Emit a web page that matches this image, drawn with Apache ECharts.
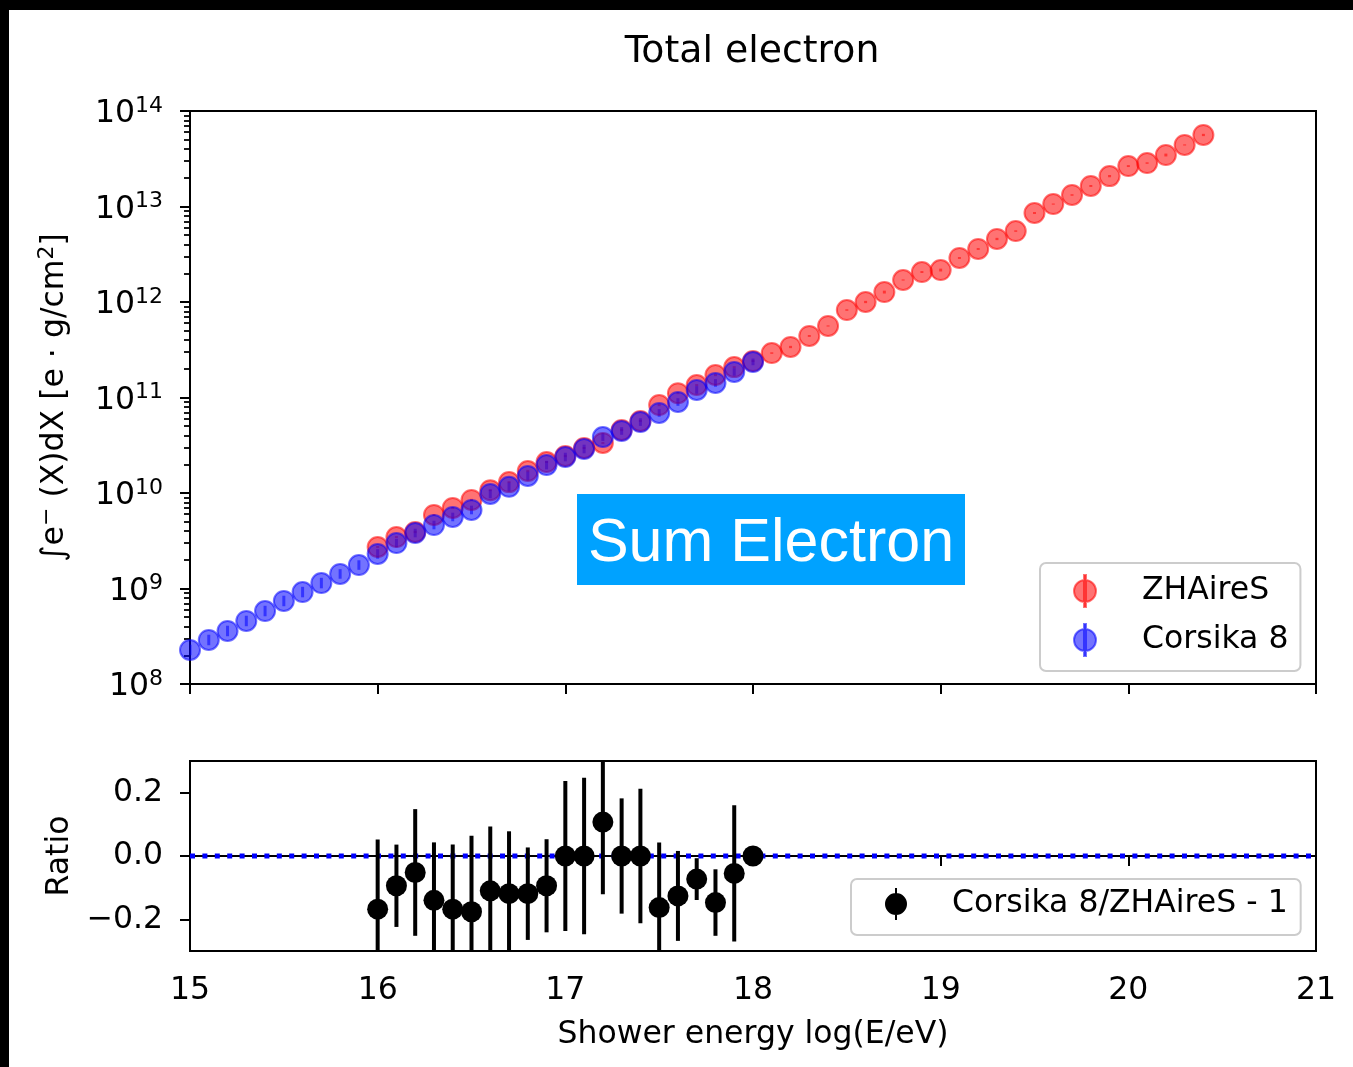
<!DOCTYPE html>
<html>
<head>
<meta charset="utf-8">
<title>Total electron</title>
<script src="https://cdn.jsdelivr.net/npm/echarts@6/dist/echarts.min.js"></script>
<style>
  html, body { margin: 0; padding: 0; background: #fff; }
  #chart { width: 1353px; height: 1067px; }
</style>
</head>
<body>
<div id="chart"></div>
<script>
// ---- data -------------------------------------------------------------
// shower energy, log10(E/eV)
const zhEnergy = [16.0, 16.1, 16.2, 16.3, 16.4, 16.5, 16.6, 16.7, 16.8, 16.9,
                  17.0, 17.1, 17.2, 17.3, 17.4, 17.5, 17.6, 17.7, 17.8, 17.9,
                  18.0, 18.1, 18.2, 18.3, 18.4, 18.5, 18.6, 18.7, 18.8, 18.9,
                  19.0, 19.1, 19.2, 19.3, 19.4, 19.5, 19.6, 19.7, 19.8, 19.9,
                  20.0, 20.1, 20.2, 20.3, 20.4];
// integrated electron profile, e·g/cm²  (ZHAireS)
const zhElectron = [2.72e9, 3.46e9, 3.91e9, 5.89e9, 6.97e9, 8.45e9, 1.07e10, 1.30e10, 1.70e10, 2.11e10,
                    2.44e10, 2.96e10, 3.34e10, 4.57e10, 5.68e10, 8.34e10, 1.11e11, 1.35e11, 1.72e11, 2.08e11,
                    2.41e11, 2.92e11, 3.38e11, 4.41e11, 5.61e11, 8.24e11, 1.00e12, 1.27e12, 1.70e12, 2.06e12,
                    2.16e12, 2.89e12, 3.59e12, 4.57e12, 5.53e12, 8.55e12, 1.06e13, 1.32e13, 1.64e13, 2.08e13,
                    2.65e13, 2.85e13, 3.46e13, 4.41e13, 5.61e13];
// half-width of the error bar in decades
const zhErr = [0.010, 0.010, 0.012, 0.010, 0.010, 0.012, 0.010, 0.010, 0.012, 0.010,
               0.012, 0.010, 0.010, 0.012, 0.010, 0.012, 0.010, 0.010, 0.012, 0.010,
               0.010, 0.008, 0.012, 0.010, 0.006, 0.008, 0.012, 0.015, 0.006, 0.010,
               0.015, 0.010, 0.010, 0.012, 0.008, 0.010, 0.006, 0.008, 0.010, 0.012,
               0.010, 0.008, 0.015, 0.006, 0.012];

const c8Energy = [15.0, 15.1, 15.2, 15.3, 15.4, 15.5, 15.6, 15.7, 15.8, 15.9,
                  16.0, 16.1, 16.2, 16.3, 16.4, 16.5, 16.6, 16.7, 16.8, 16.9,
                  17.0, 17.1, 17.2, 17.3, 17.4, 17.5, 17.6, 17.7, 17.8, 17.9,
                  18.0];
// integrated electron profile, e·g/cm²  (Corsika 8)
const c8Electron = [2.27e8, 2.89e8, 3.59e8, 4.57e8, 5.81e8, 7.40e8, 9.18e8, 1.14e9, 1.42e9, 1.76e9,
                    2.30e9, 2.99e9, 3.81e9, 4.62e9, 5.61e9, 6.64e9, 9.77e9, 1.16e10, 1.51e10, 1.96e10,
                    2.38e10, 2.89e10, 3.85e10, 4.46e10, 5.53e10, 6.89e10, 8.97e10, 1.20e11, 1.42e11, 1.85e11,
                    2.36e11];
const c8Err = [0.055, 0.055, 0.055, 0.055, 0.055, 0.055, 0.055, 0.055, 0.050, 0.050,
               0.050, 0.045, 0.045, 0.045, 0.045, 0.045, 0.045, 0.045, 0.045, 0.045,
               0.045, 0.045, 0.040, 0.040, 0.040, 0.040, 0.040, 0.040, 0.040, 0.040,
               0.035];

// Corsika 8 / ZHAireS - 1
const ratioEnergy = [16.0, 16.1, 16.2, 16.3, 16.4, 16.5, 16.6, 16.7, 16.8, 16.9,
                     17.0, 17.1, 17.2, 17.3, 17.4, 17.5, 17.6, 17.7, 17.8, 17.9,
                     18.0];
const ratioValue = [-0.168, -0.094, -0.052, -0.140, -0.168, -0.176, -0.110, -0.119, -0.119, -0.094,
                     0.000,  0.000,  0.107,  0.000,  0.000, -0.163, -0.126, -0.073, -0.147, -0.055,
                     0.000];
const ratioErr = [0.220, 0.130, 0.200, 0.183, 0.204, 0.240, 0.203, 0.197, 0.146, 0.147,
                  0.237, 0.247, 0.228, 0.182, 0.212, 0.206, 0.142, 0.066, 0.105, 0.215,
                  0.000];
// reference level of the ratio panel
const ratioZero = 0;

// axis ticks
const xTicks = [15, 16, 17, 18, 19, 20, 21];
const yDecades = [1e8, 1e9, 1e10, 1e11, 1e12, 1e13, 1e14];
const ratioTicks = [-0.2, 0.0, 0.2];
const ratioTickLabels = ['\u22120.2', '0.0', '0.2'];

// ---- helpers ----------------------------------------------------------
const FONT = 'DejaVu Sans';
const BLACK = '#000000';
const RED = 'rgba(255,0,0,0.55)';
const BLUE = 'rgba(0,0,255,0.55)';
const ICON = 'path://M10,0h2v32h-2z M11,5a11,11 0 1,1 0,22a11,11 0 1,1 0,-22z';

// minor ticks of the log axis (2..9 in every decade), as exponents
const yMinorExp = [];
for (let d = 0; d < yDecades.length - 1; d++) {
  for (let m = 2; m <= 9; m++) yMinorExp.push(Math.log10(m * yDecades[d]));
}
const yExpMin = Math.log10(yDecades[0]);
const yExpMax = Math.log10(yDecades[yDecades.length - 1]);

const zip = (...cols) => cols[0].map((_, i) => cols.map(c => c[i]));

// vertical error bar on a log axis, half-width given in decades
function logErrorBar(width, color) {
  return function (params, api) {
    const x = api.value(0), v = api.value(1), e = api.value(2);
    const f = Math.pow(10, e);
    const lo = api.coord([x, v / f]);
    const hi = api.coord([x, v * f]);
    return {
      type: 'line',
      shape: { x1: lo[0], y1: lo[1], x2: hi[0], y2: hi[1] },
      style: { stroke: color, lineWidth: width }
    };
  };
}
// vertical error bar on a linear axis
function linErrorBar(width, color) {
  return function (params, api) {
    const x = api.value(0), v = api.value(1), e = api.value(2);
    const lo = api.coord([x, v - e]);
    const hi = api.coord([x, v + e]);
    return {
      type: 'line',
      shape: { x1: lo[0], y1: lo[1], x2: hi[0], y2: hi[1] },
      style: { stroke: color, lineWidth: width }
    };
  };
}
// dotted horizontal line across the whole panel at the given level,
// built from square dots so the spacing is exact
const DOT = 5, DOT_STEP = 12.4;
function levelLine(params, api) {
  const cs = params.coordSys;
  const y = api.coord([api.value(0), api.value(1)])[1];
  const dots = [];
  for (let x = cs.x; x + DOT <= cs.x + cs.width + 0.5; x += DOT_STEP) {
    dots.push({ type: 'rect', shape: { x: x, y: y - DOT / 2, width: DOT, height: DOT },
                style: { fill: '#0000ff' } });
  }
  return { type: 'group', children: dots };
}

const FS = 31.5;   // axis, tick and legend text
const axisLine = { show: true, lineStyle: { color: BLACK, width: 2 } };
const labelText = { fontFamily: FONT, fontSize: FS, color: BLACK };
const supRich = {
  b: { fontFamily: FONT, fontSize: FS, color: BLACK, lineHeight: FS, padding: [6, 0, 0, 0] },
  s: { fontFamily: FONT, fontSize: 22, color: BLACK, lineHeight: 22, verticalAlign: 'top' }
};

const chart = echarts.init(document.getElementById('chart'), null, { renderer: 'canvas' });

chart.setOption({
  animation: false,
  backgroundColor: '#ffffff',
  title: {
    text: 'Total electron',
    left: 752, top: 33, textAlign: 'center', padding: 0,
    textStyle: { fontFamily: FONT, fontSize: 37.8, fontWeight: 'normal', color: BLACK }
  },
  grid: [
    { left: 190, top: 111, width: 1126, height: 573, show: true, borderColor: BLACK, borderWidth: 2 },
    { left: 190, top: 761, width: 1126, height: 190, show: true, borderColor: BLACK, borderWidth: 2 }
  ],
  xAxis: [
    {
      type: 'value', gridIndex: 0, min: xTicks[0], max: xTicks[xTicks.length - 1], interval: 1,
      axisLine: axisLine,
      axisTick: { show: true, length: 10, lineStyle: { color: BLACK, width: 2 } },
      axisLabel: { show: false },
      splitLine: { show: false }
    },
    {
      type: 'value', gridIndex: 1, min: xTicks[0], max: xTicks[xTicks.length - 1], interval: 1,
      axisLine: axisLine,
      axisTick: { show: true, length: 10, lineStyle: { color: BLACK, width: 2 } },
      axisLabel: Object.assign({ margin: 24 }, labelText),
      splitLine: { show: false },
      name: 'Shower energy log(E/eV)',
      nameLocation: 'middle', nameGap: 68,
      nameTextStyle: labelText
    }
  ],
  yAxis: [
    {
      type: 'log', logBase: 10, gridIndex: 0, position: 'left',
      min: yDecades[0], max: yDecades[yDecades.length - 1],
      axisLine: axisLine,
      axisTick: { show: true, length: 10, customValues: yDecades, lineStyle: { color: BLACK, width: 2 } },
      axisLabel: {
        customValues: yDecades,
        margin: 27,
        formatter: v => '{b|10}{s|' + Math.round(Math.log10(v)) + '}',
        rich: supRich
      },
      splitLine: { show: false },
      name: '{b|\u222Be}{s|\u2212}{b| (X)dX [e \u00B7 g/cm}{s|2}{b|]}',
      nameLocation: 'middle', nameRotate: 90, nameGap: 122,
      nameTextStyle: Object.assign({ rich: supRich }, labelText)
    },
    {
      // minor ticks of the log axis, placed on the exponent scale
      type: 'value', gridIndex: 0, position: 'left', offset: 0,
      min: yExpMin, max: yExpMax,
      axisLine: { show: false },
      axisTick: { show: true, length: 6, customValues: yMinorExp, lineStyle: { color: BLACK, width: 1.8 } },
      axisLabel: { show: false },
      splitLine: { show: false }
    },
    {
      type: 'value', gridIndex: 1, min: -0.3, max: 0.3,
      axisLine: axisLine,
      axisTick: { show: true, length: 10, customValues: ratioTicks, lineStyle: { color: BLACK, width: 2 } },
      axisLabel: Object.assign({
        customValues: ratioTicks,
        margin: 27,
        formatter: v => ratioTickLabels[ratioTicks.findIndex(t => Math.abs(t - v) < 1e-9)]
      }, labelText),
      splitLine: { show: false },
      name: 'Ratio',
      nameLocation: 'middle', nameRotate: 90, nameGap: 114,
      nameTextStyle: labelText
    }
  ],
  legend: [
    {
      orient: 'vertical', left: 1040, top: 563,
      padding: [11, 12, 14, 33], itemGap: 15, itemWidth: 22, itemHeight: 32,
      backgroundColor: 'rgba(255,255,255,0.8)', borderColor: '#cccccc', borderWidth: 2, borderRadius: 6,
      selectedMode: false,
      textStyle: Object.assign({ lineHeight: 32, padding: [0, 0, 0, 41] }, labelText),
      data: [{ name: 'ZHAireS', icon: ICON }, { name: 'Corsika 8', icon: ICON }]
    },
    {
      orient: 'vertical', left: 851, top: 879,
      padding: [9, 13, 15, 34], itemWidth: 22, itemHeight: 32,
      backgroundColor: 'rgba(255,255,255,0.8)', borderColor: '#cccccc', borderWidth: 2, borderRadius: 6,
      selectedMode: false,
      textStyle: Object.assign({ lineHeight: 32, padding: [0, 0, 0, 40] }, labelText),
      data: [{ name: 'Corsika 8/ZHAireS - 1', icon: ICON }]
    }
  ],
  series: [
    {
      name: 'ZHAireS error', type: 'custom', xAxisIndex: 0, yAxisIndex: 0, clip: true,
      renderItem: logErrorBar(3, RED),
      data: zip(zhEnergy, zhElectron, zhErr)
    },
    {
      name: 'ZHAireS', type: 'scatter', xAxisIndex: 0, yAxisIndex: 0,
      symbol: 'circle', symbolSize: 20,
      itemStyle: { color: RED, borderColor: RED, borderWidth: 2, opacity: 1 },
      data: zip(zhEnergy, zhElectron)
    },
    {
      name: 'Corsika 8 error', type: 'custom', xAxisIndex: 0, yAxisIndex: 0, clip: true,
      renderItem: logErrorBar(3, BLUE),
      data: zip(c8Energy, c8Electron, c8Err)
    },
    {
      name: 'Corsika 8', type: 'scatter', xAxisIndex: 0, yAxisIndex: 0,
      symbol: 'circle', symbolSize: 20,
      itemStyle: { color: BLUE, borderColor: BLUE, borderWidth: 2, opacity: 1 },
      data: zip(c8Energy, c8Electron)
    },
    {
      name: 'zero level', type: 'custom', xAxisIndex: 1, yAxisIndex: 2, clip: true, silent: true,
      renderItem: levelLine,
      data: [[xTicks[0], ratioZero]]
    },
    {
      name: 'ratio error', type: 'custom', xAxisIndex: 1, yAxisIndex: 2, clip: true,
      renderItem: linErrorBar(4, BLACK),
      data: zip(ratioEnergy, ratioValue, ratioErr)
    },
    {
      name: 'Corsika 8/ZHAireS - 1', type: 'scatter', xAxisIndex: 1, yAxisIndex: 2,
      symbol: 'circle', symbolSize: 21, clip: true,
      itemStyle: { color: BLACK, opacity: 1 },
      data: zip(ratioEnergy, ratioValue)
    }
  ],
  graphic: [
    // black edge of the frame
    { type: 'rect', z: 100, shape: { x: 0, y: 0, width: 1353, height: 10 }, style: { fill: '#000' } },
    { type: 'rect', z: 100, shape: { x: 0, y: 0, width: 9, height: 1067 }, style: { fill: '#000' } },
    // caption box
    { type: 'rect', z: 50, shape: { x: 577, y: 494, width: 388, height: 91 }, style: { fill: '#00a2ff' } },
    {
      type: 'text', z: 51, x: 771, y: 544,
      style: {
        text: 'Sum Electron', fill: '#ffffff',
        fontFamily: 'Liberation Sans', fontSize: 61,
        align: 'center', verticalAlign: 'middle'
      }
    }
  ]
});
</script>
</body>
</html>
